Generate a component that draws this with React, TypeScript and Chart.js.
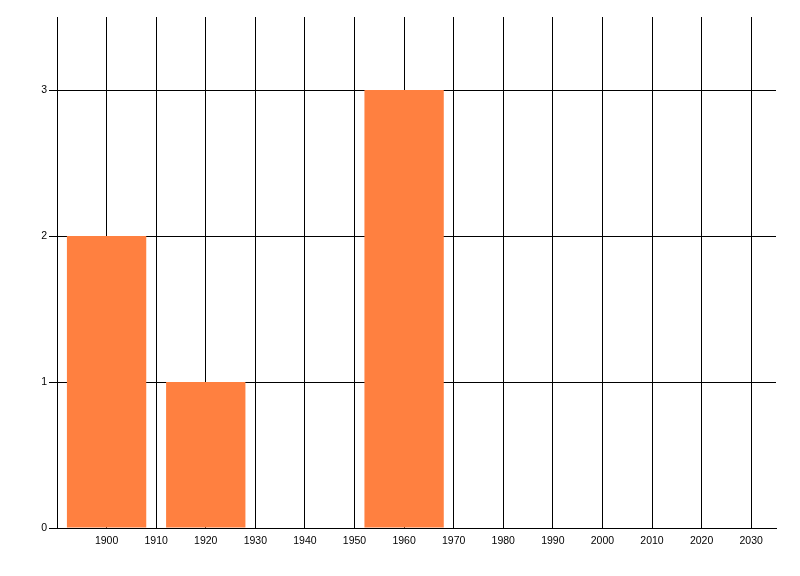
import React, { useEffect, useRef } from "react";
import { Chart, registerables } from "chart.js";

Chart.register(...registerables);

const years: number[] = [1900, 1920, 1960];
const counts: number[] = [2, 1, 3];
const xMin = 1890;
const xMax = 2035;
const yMin = 0;
const yMax = 3.5;

export default function App() {
  const ref = useRef<HTMLCanvasElement | null>(null);
  useEffect(() => {
    if (!ref.current) return;
    const font = { family: "'Liberation Sans', Arial, sans-serif", size: 10.5 };
    const chart = new Chart(ref.current, {
      type: "bar",
      data: {
        datasets: [
          {
            data: years.map((y, i) => ({ x: y, y: counts[i] })),
            backgroundColor: "#FF8040",
            borderWidth: 0,
            barPercentage: 1,
            categoryPercentage: 1.6,
          },
        ],
      },
      options: {
        responsive: false,
        animation: false,
        layout: { padding: { top: 17, right: 24, left: 0, bottom: 0 } },
        plugins: { legend: { display: false }, tooltip: { enabled: false } },
        scales: {
          x: {
            type: "linear",
            min: xMin,
            max: xMax,
            offset: false,
            grid: { color: "#000", lineWidth: 1, drawTicks: false, offset: false },
            border: { color: "#000", width: 1 },
            ticks: {
              stepSize: 10,
              includeBounds: false,
              color: "#000",
              font,
              padding: 7,
              maxRotation: 0,
              autoSkip: false,
              callback: (v: any) => (v === xMin ? "" : String(v)),
            },
            afterFit: (s: any) => {
              s.height = 48;
            },
          },
          y: {
            min: yMin,
            max: yMax,
            grid: { color: "#000", lineWidth: 1, tickLength: 8 },
            border: { color: "#000", width: 1 },
            ticks: {
              stepSize: 1,
              includeBounds: false,
              color: "#000",
              font,
              padding: 2,
            },
            afterFit: (s: any) => {
              s.width = 57;
            },
          },
        },
      },
    });
    return () => chart.destroy();
  }, []);
  return (
    <div style={{ position: "absolute", left: 0, top: 0, width: 800, height: 576, background: "#fff" }}>
      <canvas ref={ref} width={800} height={576} style={{ width: 800, height: 576, display: "block" }} />
    </div>
  );
}
